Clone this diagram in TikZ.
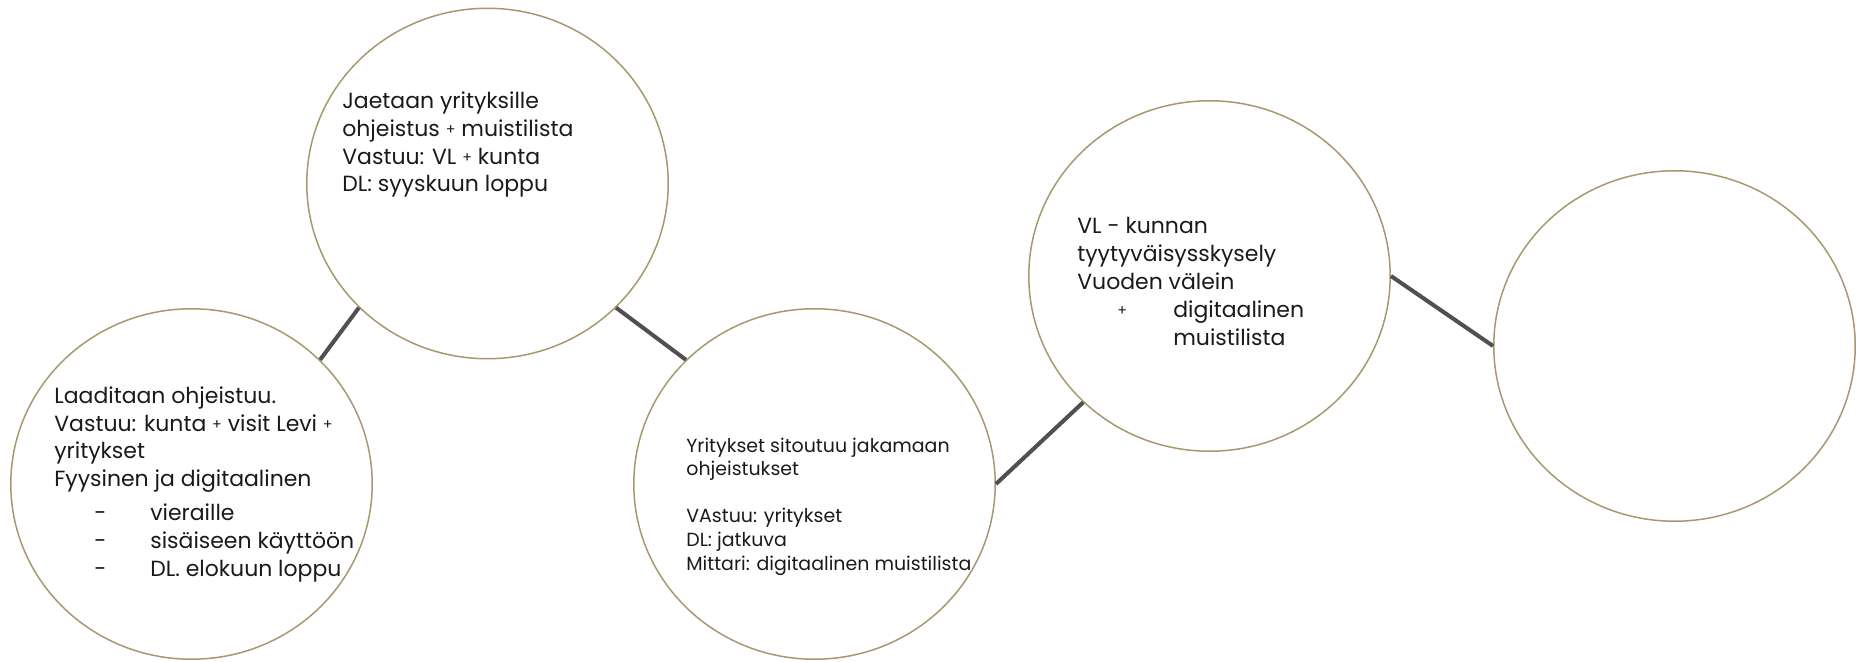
\documentclass[tikz,border=0pt]{standalone}
\usepackage{fontspec}
\setmainfont{Poppins}
\usetikzlibrary{shapes.geometric}
\definecolor{rim}{HTML}{A8976F}
\definecolor{bar}{HTML}{505050}
\definecolor{ink}{HTML}{1A1A1A}
\newcommand{\pl}{\raisebox{0.15ex}{\scalebox{0.65}{+}}}
\newcommand{\row}[2]{\hspace*{0.8cm}\makebox[1.12cm][l]{#1}#2}

\begin{document}
\begin{tikzpicture}[x=0.02cm, y=-0.02cm, ink,
    bubble/.style={draw=rim, line width=0.85pt, ellipse, minimum width=7.23cm, minimum height=7.01cm, inner sep=0pt},
    link/.style={draw=bar, line width=2.3pt},
    note/.style={anchor=base west, align=left, inner sep=0pt, font=\fontsize{12.5}{15.9}\selectfont},
    notesmall/.style={note, font=\fontsize{10.8}{13.4}\selectfont},
  ]
\useasboundingbox (0,0) rectangle (1856,662);

% --- Bubbles ----------------------------------------------------------------------
\node[bubble] (laadi) at (191.5,484) {};
\node[bubble] (jaetaan) at (487.5,183.5) {};
\node[bubble] (sitoutuu) at (814.5,484) {};
\node[bubble] (kysely) at (1209.5,276) {};
\node[bubble] (tyhja) at (1674.5,346) {};

% --- Texts (placed by the baseline of their last line) -----------------------------
\node[note] (laaditxt) at (54,576) {Laaditaan ohjeistuu.\\Vastuu: kunta \pl\ visit Levi \pl\\yritykset\\Fyysinen ja digitaalinen\\[3pt]
  \row{-}{vieraille}\\\row{-}{sisäiseen\ käyttöön}\\\row{-}{DL. elokuun loppu}};
\node[note] (jaetxt) at (342,192) {Jaetaan yrityksille\\ohjeistus \pl\ muistilista\\Vastuu: VL \pl\ kunta\\DL: syyskuun loppu};
\node[notesmall] (sitotxt) at (686,570) {Yritykset sitoutuu jakamaan\\ohjeistukset\\[13.4pt]VAstuu: yritykset\\DL: jatkuva\\Mittari: digitaalinen muistilista};
\node[note] (kyselytxt) at (1077,345) {VL - kunnan\\tyytyväisysskysely\\Vuoden välein\\
  \row{\pl}{digitaalinen}\\\hspace*{1.92cm}muistilista};

% --- Links ------------------------------------------------------------------------
\draw[link] (laadi.44) -- (jaetaan.224);
\draw[link] (jaetaan.316) -- (sitoutuu.136);
\draw[link] (sitoutuu.0) -- (kysely.225);
\draw[link] (kysely.0) -- (tyhja.180);
\end{tikzpicture}
\end{document}
